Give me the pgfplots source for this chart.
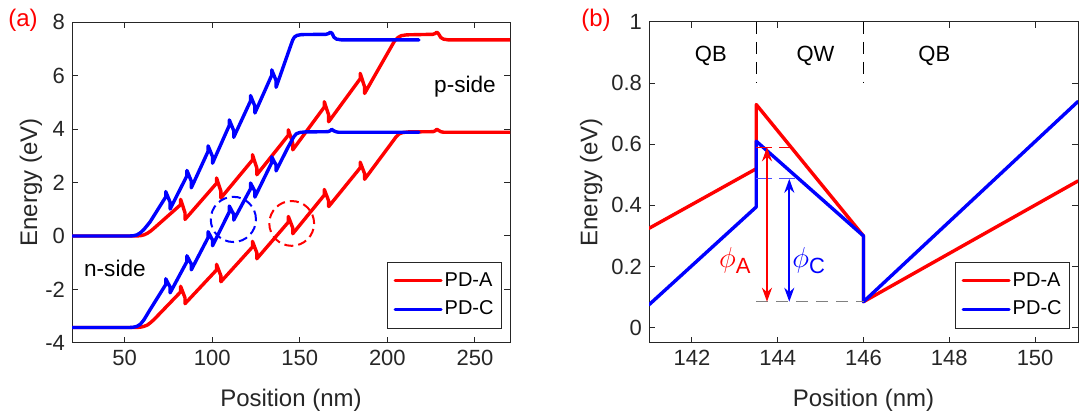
\documentclass[border=0pt]{standalone}
\usepackage{pgfplots}
\pgfplotsset{compat=1.18}
\usepackage{fontspec}
\setmainfont{Liberation Sans}
\usetikzlibrary{arrows.meta}
\definecolor{axgray}{RGB}{38,38,38}
\definecolor{pdred}{RGB}{255,0,0}
\definecolor{pdblue}{RGB}{0,0,255}

\pgfplotsset{
  myax/.style={
    scale only axis,
    height=160.5pt,
    axis line style={axgray, line width=0.5pt},
    every tick/.style={axgray, line width=0.5pt},
    major tick length=2.8pt,
    tick align=inside,
    ticklabel style={font=\fontsize{11}{13}\selectfont, text=axgray},
    label style={font=\fontsize{12}{14}\selectfont, text=axgray},
    /pgf/number format/assume math mode=true,
    legend style={at={(1,0)}, anchor=south east, xshift=-4pt, yshift=7.3pt,
      draw=axgray, line width=0.4pt, font=\fontsize{10}{12}\selectfont,
      inner xsep=3pt, inner ysep=4pt, row sep=4pt,
      nodes={inner sep=1pt},
      /tikz/every even column/.append style={column sep=2pt}},
    legend cell align=left,
    legend image code/.code={\draw[#1, line width=1.6pt] (0pt,0pt) -- (23pt,0pt);},
    every axis plot/.append style={line width=1.7pt, line join=round, line cap=round},
    xlabel style={at={(axis description cs:0.5,0)}, yshift=-28.5pt, anchor=center},
  }
}

\begin{document}
\begin{tikzpicture}
\useasboundingbox (0,0) rectangle (540pt,207.5pt);

% ---------------- Panel (a) ----------------
\begin{axis}[myax,
  at={(36pt,36pt)}, anchor=south west,
  width=219pt,
  xmin=20, xmax=270, ymin=-4, ymax=8,
  xtick={50,100,150,200,250},
  ytick={-4,-2,0,2,4,6,8},
  xlabel={Position (nm)},
  ylabel={Energy (eV)},
  ylabel style={at={(axis description cs:-0.094,0.5)}, anchor=center},
]
% PD-A lower
\addplot[pdred] coordinates {
(20,-3.42)(56,-3.42)(59,-3.41)(61,-3.38)(63,-3.33)(65,-3.23)(67,-3.11)
(82,-2.09)(82,-1.88)(84.5,-2.31)(84.5,-2.53)
(102.5,-1.27)(102.5,-1.06)(105,-1.49)(105,-1.71)
(123,-0.41)(123,-0.20)(125.5,-0.63)(125.5,-0.85)
(143.5,0.52)(143.5,0.73)(146,0.30)(146,0.085)
(164,1.53)(164,1.74)(166.5,1.31)(166.5,1.10)
(184.5,2.55)(184.5,2.76)(187,2.33)(187,2.12)
(203,3.53)(205,3.71)(207,3.83)(209,3.87)(212,3.89)(226,3.90)(227.3,3.93)(228.2,3.99)(229.2,3.95)(230.5,3.90)(232,3.88)(270,3.88)
};
\addlegendentry{PD-A}
% PD-A upper
\addplot[pdred, forget plot] coordinates {
(20,0)(56,0)(59,0.01)(61,0.04)(63,0.10)(65,0.19)(67,0.30)
(82,1.17)(82,1.37)(84.5,0.87)(84.5,0.62)
(102.5,1.97)(102.5,2.17)(105,1.67)(105,1.42)
(123,2.84)(123,3.04)(125.5,2.54)(125.5,2.29)
(143.5,3.77)(143.5,3.97)(146,3.47)(146,3.22)
(164,4.82)(164,5.02)(166.5,4.52)(166.5,4.27)
(184.5,5.88)(184.5,6.08)(187,5.58)(187,5.33)
(202,7.05)(204,7.28)(206,7.42)(208,7.49)(211,7.52)(226,7.54)(227.3,7.57)(228.2,7.62)(229.2,7.56)(230.5,7.42)(232,7.36)(235,7.33)(270,7.33)
};
% PD-C lower
\addplot[pdblue] coordinates {
(20,-3.42)(53,-3.42)(55,-3.41)(57,-3.38)(59,-3.30)(61,-3.14)(64.5,-2.76)
(73.5,-1.815)(73.5,-1.60)(76,-1.91)(76,-2.125)
(85.6,-0.955)(85.6,-0.74)(88.1,-1.05)(88.1,-1.265)
(97.7,-0.055)(97.7,0.16)(100.2,-0.15)(100.2,-0.365)
(109.8,0.905)(109.8,1.12)(112.3,0.81)(112.3,0.595)
(121.9,1.765)(121.9,1.98)(124.4,1.67)(124.4,1.455)
(134,2.745)(134,2.96)(136.5,2.65)(136.5,2.435)
(143,3.28)(145,3.52)(146.5,3.70)(148,3.82)(150,3.87)(153,3.89)(166,3.90)(167.3,3.93)(168.2,3.99)(169.2,3.94)(170.5,3.90)(172,3.88)(218,3.88)
};
\addlegendentry{PD-C}
% PD-C upper
\addplot[pdblue, forget plot] coordinates {
(20,0)(53,0)(55,0.01)(57,0.04)(59,0.12)(61,0.24)(64.5,0.52)
(73.5,1.46)(73.5,1.66)(76,1.26)(76,1.01)
(85.6,2.25)(85.6,2.45)(88.1,2.05)(88.1,1.80)
(97.7,3.17)(97.7,3.37)(100.2,2.97)(100.2,2.72)
(109.8,4.14)(109.8,4.34)(112.3,3.94)(112.3,3.69)
(121.9,5.05)(121.9,5.25)(124.4,4.85)(124.4,4.60)
(134,6.01)(134,6.21)(136.5,5.81)(136.5,5.56)
(145,7.15)(146,7.33)(147,7.44)(148.5,7.50)(151,7.53)(165,7.54)(166.5,7.57)(167.5,7.62)(168.5,7.57)(169.5,7.43)(171,7.36)(174,7.33)(218,7.33)
};
\draw[pdblue, line width=1pt, dash pattern=on 4.5pt off 2.5pt] (axis cs:112.1,0.62) circle[radius=11.3pt];
\draw[pdred, line width=1pt, dash pattern=on 4.5pt off 2.5pt] (axis cs:145.4,0.47) circle[radius=11.2pt];
\node[font=\fontsize{11.3}{13}\selectfont, text=black] at (axis cs:244.3,5.57) {p-side};
\node[font=\fontsize{11.3}{13}\selectfont, text=black] at (axis cs:44.5,-1.21) {n-side};
\end{axis}

% ---------------- Panel (b) ----------------
\begin{axis}[myax,
  at={(324.5pt,36pt)}, anchor=south west,
  width=214.5pt,
  xmin=141, xmax=151, ymin=-0.05, ymax=1,
  xtick={142,144,146,148,150},
  ytick={0,0.2,0.4,0.6,0.8,1},
  yticklabel style={/pgf/number format/fixed},
  xlabel={Position (nm)},
  ylabel={Energy (eV)},
  ylabel style={at={(axis description cs:-0.135,0.5)}, anchor=center},
]
\addplot[pdred] coordinates {(141,0.325)(143.5,0.52)(143.5,0.73)(146,0.30)(146,0.085)(151,0.48)};
\addlegendentry{PD-A}
\addplot[pdblue] coordinates {(141,0.075)(143.5,0.395)(143.5,0.61)(146,0.30)(146,0.085)(151,0.74)};
\addlegendentry{PD-C}
\draw[black, line width=0.75pt, dash pattern=on 5.8pt off 4.2pt] (axis cs:143.5,1) -- (axis cs:143.5,0.8);
\draw[black, line width=0.75pt, dash pattern=on 5.8pt off 4.2pt] (axis cs:146,1) -- (axis cs:146,0.8);
\draw[gray, line width=0.7pt, dash pattern=on 6pt off 4pt] (axis cs:143.5,0.085) -- (axis cs:146,0.085);
\draw[pdred, line width=0.5pt, dash pattern=on 7.8pt off 3.8pt] (axis cs:143.5,0.59) -- (axis cs:144.33,0.59);
\draw[pdblue!70, line width=0.5pt, dash pattern=on 7.8pt off 3.8pt] (axis cs:143.5,0.487) -- (axis cs:144.5,0.487);
\draw[pdred, line width=1pt, {Stealth[length=7pt,width=5pt]}-{Stealth[length=7pt,width=5pt]}] (axis cs:143.75,0.59) -- (axis cs:143.75,0.085);
\draw[pdblue, line width=1pt, {Stealth[length=7pt,width=5pt]}-{Stealth[length=7pt,width=5pt]}] (axis cs:144.27,0.487) -- (axis cs:144.27,0.085);
\node[text=pdred] at (axis cs:143.0,0.22) {\fontsize{13.5}{14}\selectfont$\phi$\raisebox{-0.45ex}{\fontsize{11}{12}\selectfont A}};
\node[text=pdblue] at (axis cs:144.72,0.22) {\fontsize{13.5}{14}\selectfont$\phi$\raisebox{-0.45ex}{\fontsize{11}{12}\selectfont C}};
\node[font=\fontsize{11}{13}\selectfont, text=black] at (axis cs:142.44,0.89) {QB};
\node[font=\fontsize{11}{13}\selectfont, text=black] at (axis cs:144.88,0.89) {QW};
\node[font=\fontsize{11}{13}\selectfont, text=black] at (axis cs:147.65,0.89) {QB};
\end{axis}

\node[text=pdred, font=\fontsize{12}{14}\selectfont] at (11.5pt,197.5pt) {(a)};
\node[text=pdred, font=\fontsize{12}{14}\selectfont] at (298pt,197.5pt) {(b)};
\end{tikzpicture}
\end{document}
